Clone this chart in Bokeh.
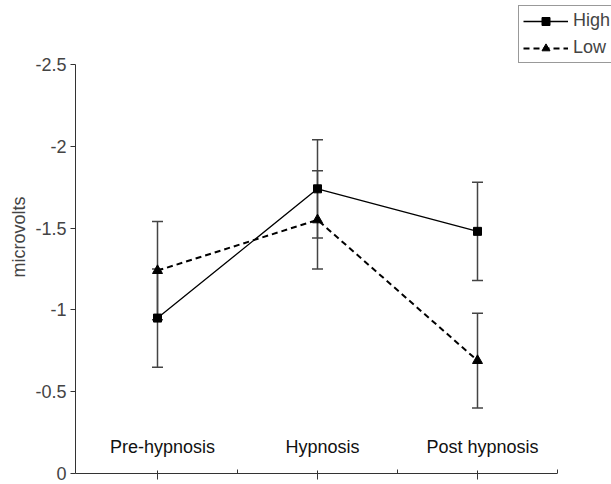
from bokeh.plotting import figure
from bokeh.models import (Range1d, FixedTicker, Legend, LegendItem, Whisker,
                          TeeHead, ColumnDataSource, LinearAxis)
from bokeh.core.properties import value
from bokeh.embed import file_html
from bokeh.resources import INLINE

categories = ["Pre-hypnosis", "Hypnosis", "Post hypnosis"]
high = [-0.95, -1.74, -1.48]
high_err = [0.30, 0.30, 0.30]
low = [-1.24, -1.55, -0.69]
low_err = [0.30, 0.30, 0.29]
yticks = [0, -0.5, -1, -1.5, -2, -2.5]
ytick_labels = ["0", "-0.5", "-1", "-1.5", "-2", "-2.5"]

FONT = "Liberation Sans"
FS = "18px"
LABEL_Y = -0.16
AX = "#333333"

xs = [i + 0.5 for i in range(len(categories))]
bounds_x = [i + 1 for i in range(len(categories))]

p = figure(width=611, height=484, output_backend="svg", toolbar_location=None,
           x_range=Range1d(-0.0125, 3.3375), y_range=Range1d(0, -2.891),
           min_border_left=75, min_border_right=0, min_border_top=0,
           min_border_bottom=11)
p.title.visible = False
p.outline_line_color = None
p.xgrid.visible = False
p.ygrid.visible = False
p.background_fill_color = "white"
p.border_fill_color = "white"

# y axis
p.yaxis.ticker = FixedTicker(ticks=yticks)
p.yaxis.bounds = (-2.5, 0)
p.yaxis.major_label_overrides = {t: l for t, l in zip(yticks, ytick_labels)}
p.yaxis.axis_label = "microvolts"
p.yaxis.axis_label_text_font = FONT
p.yaxis.axis_label_text_font_size = FS
p.yaxis.axis_label_text_font_style = "normal"
p.yaxis.axis_label_standoff = 3
p.yaxis.major_label_text_font = FONT
p.yaxis.major_label_text_font_size = FS
p.yaxis.major_label_standoff = 4
p.yaxis.major_tick_out = 5
p.yaxis.major_tick_in = 0
p.yaxis.minor_tick_out = 0
p.yaxis.minor_tick_in = 0
p.yaxis.axis_line_color = AX
p.yaxis.major_tick_line_color = AX

# x axis: ticks under the categories (no labels)
p.xaxis.ticker = FixedTicker(ticks=[], minor_ticks=xs)
p.xaxis.bounds = (-0.0125, 3)
p.xaxis.minor_tick_out = 6
p.xaxis.minor_tick_in = 3
p.xaxis.axis_line_color = AX
p.xaxis.minor_tick_line_color = AX

# boundary ticks between categories
bax = LinearAxis(ticker=FixedTicker(ticks=[], minor_ticks=bounds_x),
                 fixed_location=0, axis_line_color=None,
                 minor_tick_in=4, minor_tick_out=0, minor_tick_line_color=AX)
p.add_layout(bax, "below")

# category labels inside the plot
p.text(x=xs, y=[LABEL_Y] * len(xs), text=categories, x_offset=5,
       text_font=value(FONT), text_font_size=FS, text_align="center",
       text_baseline="middle", text_color="#111111")

# error bars
for vals, errs in ((high, high_err), (low, low_err)):
    src = ColumnDataSource(dict(x=xs, lo=[v + e for v, e in zip(vals, errs)],
                                hi=[v - e for v, e in zip(vals, errs)]))
    w = Whisker(source=src, base="x", lower="lo", upper="hi",
                line_color="#444444", line_width=1.5,
                upper_head=TeeHead(size=11, line_color="#444444", line_width=1.5),
                lower_head=TeeHead(size=11, line_color="#444444", line_width=1.5))
    p.add_layout(w)

hl = p.line(xs, high, line_color="black", line_width=1.3)
hm = p.scatter(xs, high, marker="square", size=8, color="black")
ll = p.line(xs, low, line_color="black", line_width=2, line_dash="6 4")
lm = p.scatter(xs, low, marker="triangle", size=10, color="black")

legend = Legend(items=[LegendItem(label="High", renderers=[hl, hm]),
                       LegendItem(label="Low", renderers=[ll, lm])],
                location=(443, 410), orientation="vertical",
                label_text_font=FONT, label_text_font_size=FS,
                glyph_width=45, glyph_height=20, label_standoff=5,
                padding=4, spacing=6, margin=0,
                border_line_color=AX, border_line_width=1,
                label_height=20, background_fill_color="white")
p.add_layout(legend)

open("out.html", "w").write(file_html(p, INLINE))
